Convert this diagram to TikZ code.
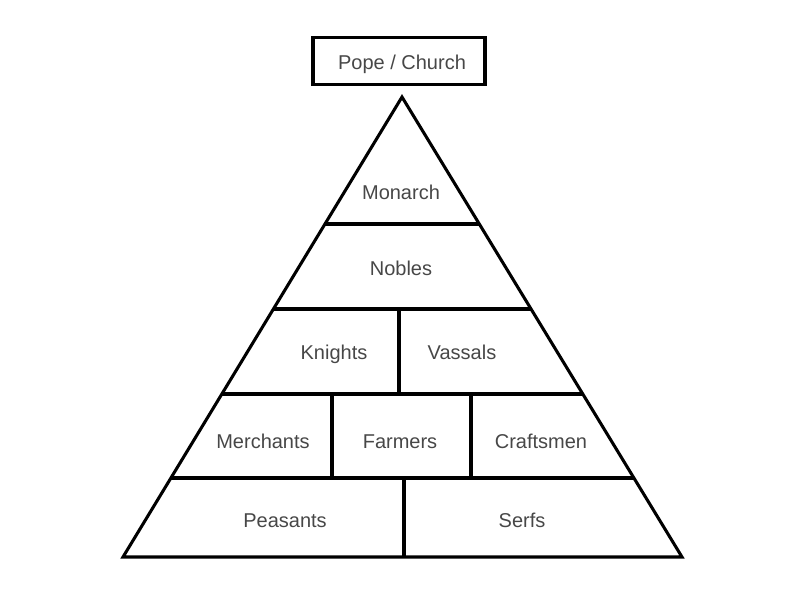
\documentclass[tikz,border=0pt]{standalone}
\usepackage{fontspec}
\setmainfont{Liberation Sans}
\begin{document}
\begin{tikzpicture}[x=0.75pt,y=-0.75pt,
  lbl/.style={text=black!72,font=\fontsize{15}{18}\selectfont,inner sep=0pt,text height=10.8pt,text depth=0pt}]
\useasboundingbox (0,0) rectangle (794,595);%
\node[draw=black,line width=2.6pt,minimum width=129pt,minimum height=35pt,inner sep=0pt] (pope) at (399,61) {};%
\node[lbl] (popetxt) at (402,62) {Pope / Church};%
\begin{scope}[line width=2.3pt]
\coordinate (apex) at (402,97);%
\coordinate (bl) at (123,557);%
\coordinate (br) at (682,557);%
\begin{scope}
\clip (apex) -- (bl) -- (br) -- cycle;%
\draw (100,224) -- (700,224);%
\draw (100,309) -- (700,309);%
\draw (100,394) -- (700,394);%
\draw (100,478) -- (700,478);%
\end{scope}
\draw (399,309) -- (399,394);%
\draw (332,394) -- (332,478);%
\draw (471,394) -- (471,478);%
\draw (404,478) -- (404,557);%
\draw[line join=miter] (apex) -- (bl) -- (br) -- cycle;%
\end{scope}
\node[lbl] (monarch) at (401,192) {Monarch};%
\node[lbl] (nobles) at (401,268) {Nobles};%
\node[lbl] (knights) at (334,352) {Knights};%
\node[lbl] (vassals) at (462,352) {Vassals};%
\node[lbl] (merchants) at (263,441) {Merchants};%
\node[lbl] (farmers) at (400,441) {Farmers};%
\node[lbl] (craftsmen) at (541,441) {Craftsmen};%
\node[lbl] (peasants) at (285,520) {Peasants};%
\node[lbl] (serfs) at (522,520) {Serfs};%
\end{tikzpicture}
\end{document}
